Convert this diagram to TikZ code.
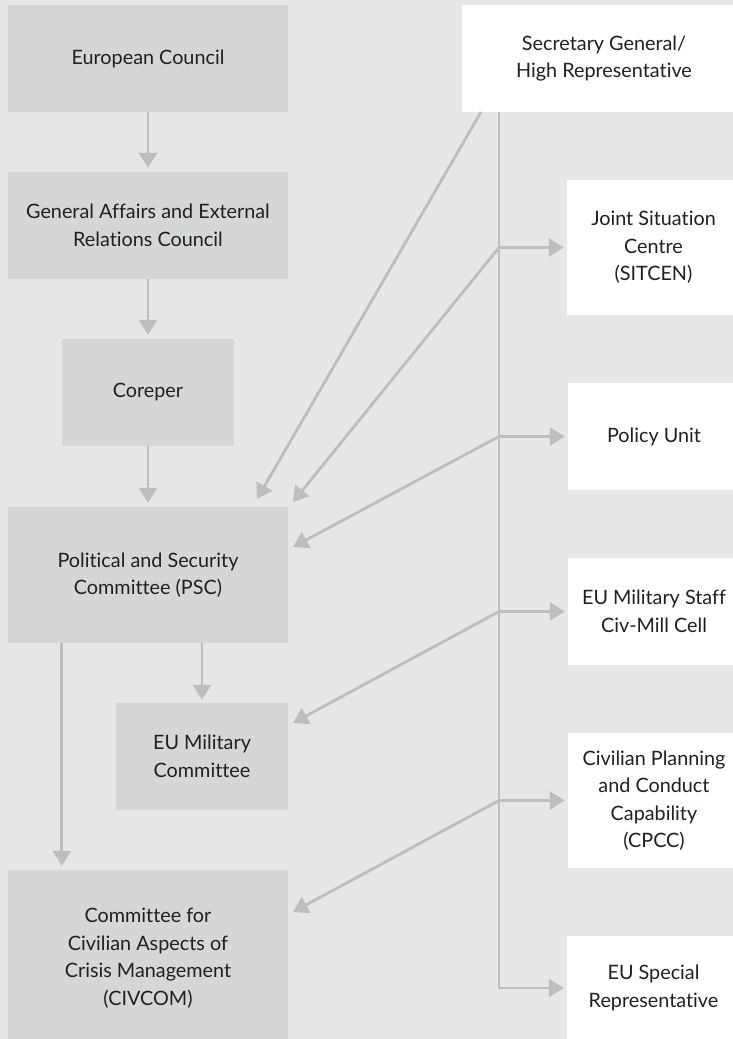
\documentclass[tikz,border=0pt]{standalone}
\usepackage{fontspec}
\setmainfont{Lato}[Ligatures={NoCommon}]
\usetikzlibrary{arrows.meta}
\definecolor{bgc}{HTML}{E6E7E8}
\definecolor{lbox}{HTML}{D5D6D8}
\definecolor{arrc}{HTML}{BCBEC0}
\definecolor{txt}{HTML}{231F20}
\begin{document}
\begin{tikzpicture}[x=1pt,y=-1pt,
  lb/.style={fill=lbox,draw=none,inner sep=0pt,align=center,text=txt,
    font=\fontsize{19.8}{27.5}\selectfont},
  rb/.style={fill=white,draw=none,inner sep=0pt,align=center,text=txt,
    font=\fontsize{19.8}{27.5}\selectfont},
  arr/.style={draw=arrc,line width=2.8pt,-{Triangle[length=15pt,width=18pt]}},
  ln/.style={draw=arrc,line width=2.8pt}]
\useasboundingbox (0,0) rectangle (733,1039);
\clip (0,0) rectangle (733,1039);
\fill[bgc] (0,0) rectangle (733,1039);
% left column
\node[lb,minimum width=280pt,minimum height=107pt] (ec) at (148,58.5) {European Council};
\node[lb,minimum width=280pt,minimum height=107pt] (gaerc) at (148,225.5) {General Affairs and External\\Relations Council};
\node[lb,minimum width=172pt,minimum height=107pt] (coreper) at (148,392.5) {Coreper};
\node[lb,minimum width=280pt,minimum height=136pt] (psc) at (148,575) {Political and Security\\Committee (PSC)};
\node[lb,minimum width=172pt,minimum height=107pt] (eumc) at (202,756.5) {EU Military\\Committee};
\node[lb,minimum width=280pt,minimum height=176pt] (civcom) at (148,958) {Committee for\\Civilian Aspects of\\Crisis Management\\(CIVCOM)};
% right column
\node[rb,minimum width=284pt,minimum height=107pt] (sg) at (604,58.5) {Secretary General/\\High Representative};
\node[rb,minimum width=173pt,minimum height=135pt] (sitcen) at (653.5,247.5) {Joint Situation\\Centre\\(SITCEN)};
\node[rb,minimum width=172pt,minimum height=107pt] (policy) at (654,436.5) {Policy Unit};
\node[rb,minimum width=172pt,minimum height=107pt] (eums) at (654,611.5) {EU Military Staff\\Civ-Mill Cell};
\node[rb,minimum width=172pt,minimum height=135pt] (cpcc) at (654,800.5) {Civilian Planning\\and Conduct\\Capability\\(CPCC)};
\node[rb,minimum width=173pt,minimum height=104pt] (eusr) at (653.5,988) {EU Special\\Representative};
% left vertical arrows
\draw[arr,shorten >=4pt] (ec.south) -- (gaerc.north);
\draw[arr,shorten >=4pt] (gaerc.south) -- (coreper.north);
\draw[arr,shorten >=4pt] (coreper.south) -- (psc.north);
\draw[arr,shorten >=3pt] (eumc.north |- psc.south) -- (eumc.north);
\draw[arr,shorten >=4pt] (coreper.south west |- psc.south) -- (coreper.south west |- civcom.north);
% trunk
\coordinate (t0) at (499,112);
\coordinate (d0) at (481,112);
\coordinate (b1) at (t0 |- sitcen.west);
\coordinate (b2) at (t0 |- policy.west);
\coordinate (b3) at (t0 |- eums.west);
\coordinate (b4) at (t0 |- cpcc.west);
\draw[arr,shorten >=3pt] (t0) |- (eusr.west);
\draw[arr,shorten >=3pt] (b1) -- (sitcen.west);
\draw[arr,shorten >=3pt] (b2) -- (policy.west);
\draw[arr,shorten >=3pt] (b3) -- (eums.west);
\draw[arr,shorten >=3pt] (b4) -- (cpcc.west);
% diagonal arrows to the left column
\coordinate (p0) at (257,499);
\coordinate (p1) at (293,502);
\coordinate (p2) at (293,547);
\coordinate (p3) at (293,723);
\coordinate (p4) at (293,912);
\draw[arr] (d0) -- (p0);
\draw[arr] (b1) -- (p1);
\draw[arr] (b2) -- (p2);
\draw[arr] (b3) -- (p3);
\draw[arr] (b4) -- (p4);
\end{tikzpicture}
\end{document}
